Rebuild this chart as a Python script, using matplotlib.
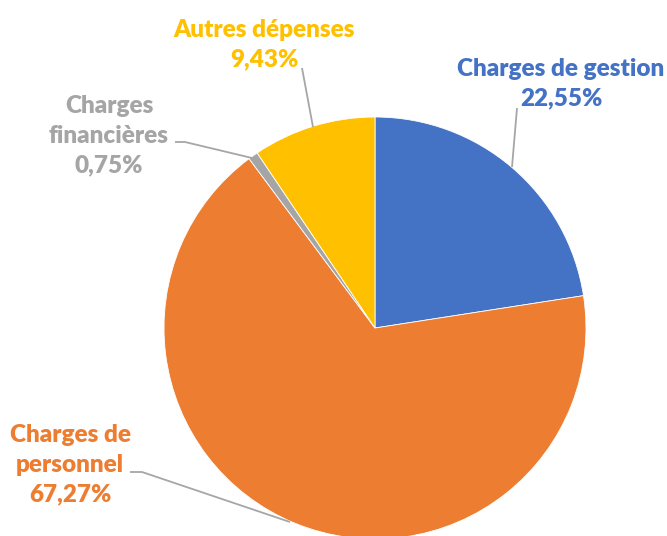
import matplotlib
matplotlib.use("Agg")
import matplotlib.pyplot as plt

categories = ["Charges de gestion", "Charges de personnel", "Charges financières", "Autres dépenses"]
values = [22.55, 67.27, 0.75, 9.43]
labels = ["Charges de gestion\n22,55%", "Charges de\npersonnel\n67,27%", "Charges\nfinancières\n0,75%", "Autres dépenses\n9,43%"]
colors = ["#4472C4", "#ED7D31", "#A5A5A5", "#FFC000"]

W, H = 667, 536
fig = plt.figure(figsize=(W / 100, H / 100), dpi=100)
ax = fig.add_axes([0, 0, 1, 1])

cx, cy, r = 375, H - 328, 211
ax.pie(values, colors=colors, startangle=90, counterclock=False,
       center=(cx, cy), radius=r, frame=True,
       wedgeprops=dict(linewidth=0.6, edgecolor="white"))
ax.set_xlim(0, W)
ax.set_ylim(0, H)
ax.set_aspect("equal")
ax.axis("off")

font = "Lato"
label_pos = [(561, 84), (70, 465), (109, 136), (264, 45)]
for lab, col, (x, y) in zip(labels, colors, label_pos):
    ax.text(x, H - y, lab, color=col, fontsize=17.5, fontweight="heavy", family=font,
            ha="center", va="center", linespacing=1.42)

lc = "#A6A6A6"
leaders = [
    [(517, 108), (512, 167)],
    [(130, 472), (142, 472), (290, 522)],
    [(175, 142), (185, 142), (252, 158)],
    [(302, 68), (313, 127)],
]
for pts in leaders:
    xs = [p[0] for p in pts]
    ys = [H - p[1] for p in pts]
    ax.plot(xs, ys, color=lc, lw=1.3, solid_capstyle="butt")

fig.savefig("out.png", dpi=100)
